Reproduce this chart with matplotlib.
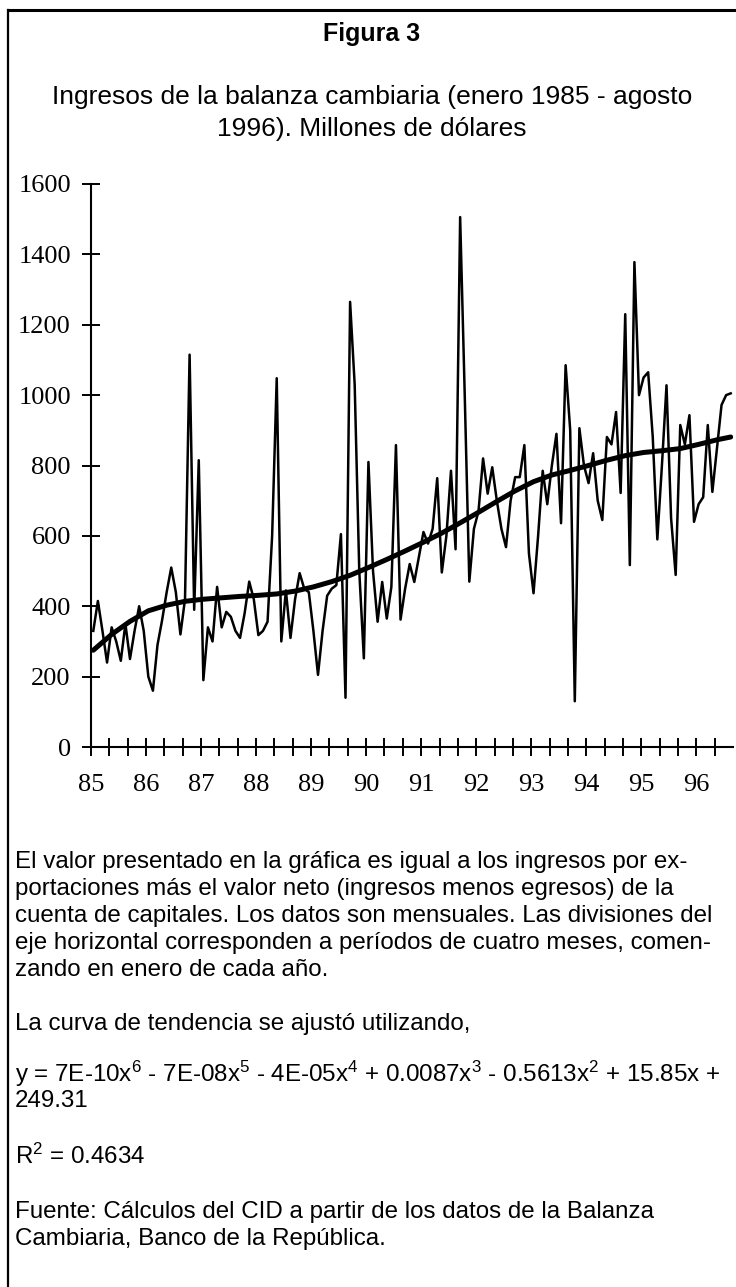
import numpy as np
import matplotlib
matplotlib.use('Agg')
import matplotlib.pyplot as plt
from matplotlib.lines import Line2D

plt.rcParams['font.family'] = ['Liberation Sans', 'DejaVu Sans']
plt.rcParams['mathtext.fontset'] = 'custom'
plt.rcParams['mathtext.rm'] = 'Liberation Sans'
plt.rcParams['mathtext.it'] = 'Liberation Sans:italic'

W, H = 736, 1287

# ── Data (millones de dólares, enero 1985 - agosto 1996, mensual) ────────────
ingresos = [
    330, 415, 330, 240, 340, 300, 245, 350, 250, 330, 400, 330,      # 1985
    200, 160, 290, 360, 440, 510, 440, 320, 420, 1115, 390, 815,     # 1986
    190, 340, 300, 455, 340, 384, 370, 330, 310, 380, 470, 420,      # 1987
    318, 330, 356, 600, 1048, 300, 445, 310, 420, 494, 450, 440,     # 1988
    330, 205, 330, 430, 450, 460, 605, 140, 1265, 1030, 500, 252,    # 1989
    810, 500, 356, 469, 365, 455, 858, 362, 450, 520, 469, 540,      # 1990
    611, 578, 620, 764, 496, 600, 785, 562, 1506, 1000, 470, 620,    # 1991
    670, 820, 720, 795, 700, 620, 568, 700, 767, 767, 858, 550,      # 1992
    437, 600, 785, 690, 800, 890, 636, 1085, 900, 130, 906, 800,     # 1993
    750, 835, 700, 645, 881, 860, 952, 722, 1230, 517, 1378, 1000,   # 1994
    1050, 1065, 881, 590, 800, 1028, 650, 489, 915, 860, 943, 640,   # 1995
    690, 710, 915, 725, 850, 972, 1000, 1005,                        # 1996
]

# curva de tendencia (polinomio de grado 6), leída cada cuatro meses
tend_mes = [0, 4, 8, 12, 16, 20, 24, 28, 32, 36, 40, 44, 48, 52, 56, 60, 64, 68,
            72, 76, 80, 84, 88, 92, 96, 100, 104, 108, 112, 116, 120, 124, 128,
            132, 136, 139]
tendencia = [275, 320, 357, 387, 403, 414, 420, 424, 428, 431, 435, 443, 455,
             470, 488, 510, 533, 557, 582, 608, 637, 667, 698, 728, 754, 773,
             786, 800, 815, 828, 837, 842, 848, 860, 873, 881]

anios = ['85', '86', '87', '88', '89', '90', '91', '92', '93', '94', '95', '96']
y_ticks = [0, 200, 400, 600, 800, 1000, 1200, 1400, 1600]

# ── Figure ───────────────────────────────────────────────────────────────────
fig = plt.figure(figsize=(W / 100, H / 100), dpi=100)


def fy(y):
    return 1 - y / H


ax = fig.add_axes([91 / W, fy(747), (733 - 91) / W, (747 - 184) / H])
meses = np.arange(len(ingresos)) + 0.5
ax.plot(meses, ingresos, color='black', lw=1.8, solid_joinstyle='round')
ax.plot(np.array(tend_mes) + 0.5, tendencia, color='black', lw=3.6,
        solid_capstyle='round', solid_joinstyle='round')

ax.set_xlim(0, 140)
ax.set_ylim(0, 1600)
for s in ('top', 'right'):
    ax.spines[s].set_visible(False)
for s in ('left', 'bottom'):
    ax.spines[s].set_linewidth(1.5)

ax.set_yticks(y_ticks)
ax.set_yticklabels([str(v) for v in y_ticks])
xt = np.arange(0, 137, 4)
ax.set_xticks(xt)
ax.set_xticklabels([anios[i // 3] if i % 3 == 0 else '' for i in range(len(xt))])
ax.tick_params(axis='both', direction='inout', length=13, width=1.4,
               labelsize=19, labelfontfamily='Liberation Serif')
ax.tick_params(axis='y', pad=8)
ax.tick_params(axis='x', pad=13)

# ── Marco ────────────────────────────────────────────────────────────────────
fig.add_artist(Line2D([8 / W, 1], [fy(10), fy(10)], color='black', lw=2.2,
                      transform=fig.transFigure))
fig.add_artist(Line2D([8 / W, 8 / W], [fy(10), 0], color='black', lw=1.6,
                      transform=fig.transFigure))

# ── Textos ───────────────────────────────────────────────────────────────────
fig.text(372 / W, fy(34), 'Figura 3', ha='center', va='center',
         fontsize=18, fontweight='bold')
fig.text(372 / W, fy(97), 'Ingresos de la balanza cambiaria (enero 1985 - agosto',
         ha='center', va='center', fontsize=19)
fig.text(372 / W, fy(129), '1996). Millones de dólares',
         ha='center', va='center', fontsize=19)

lineas = [
    (862, 'El valor presentado en la gráfica es igual a los ingresos por ex-'),
    (889, 'portaciones más el valor neto (ingresos menos egresos) de la'),
    (916, 'cuenta de capitales. Los datos son mensuales. Las divisiones del'),
    (943, 'eje horizontal corresponden a períodos de cuatro meses, comen-'),
    (970, 'zando en enero de cada año.'),
    (1024, 'La curva de tendencia se ajustó utilizando,'),
    (1074, 'y = 7E-10x$^6$ - 7E-08x$^5$ - 4E-05x$^4$ + 0.0087x$^3$ - 0.5613x$^2$ + 15.85x +'),
    (1101, '249.31'),
    (1156, 'R$^2$ = 0.4634'),
    (1212, 'Fuente: Cálculos del CID a partir de los datos de la Balanza'),
    (1239, 'Cambiaria, Banco de la República.'),
]
for y, t in lineas:
    fig.text(15 / W, fy(y), t, ha='left', va='center', fontsize=17.4)

fig.savefig('out.png', dpi=100)
